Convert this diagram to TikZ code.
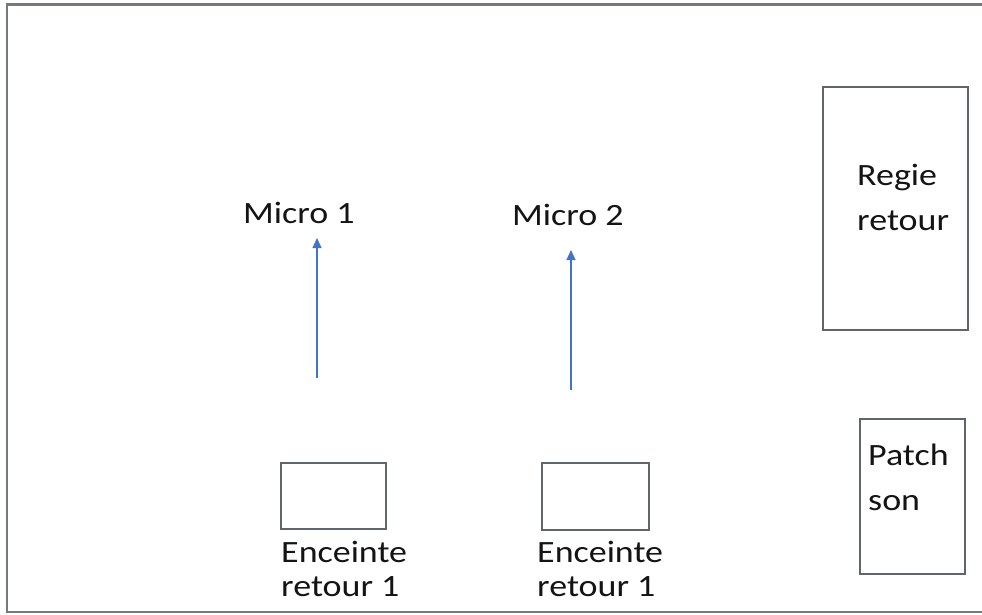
\documentclass[tikz,border=0pt]{standalone}
\usepackage{fontspec}
\setmainfont{Carlito}[FakeStretch=1.16]
\usetikzlibrary{arrows.meta}
\definecolor{framegray}{RGB}{115,120,130}
\definecolor{boxgray}{RGB}{95,100,110}
\definecolor{arrowblue}{RGB}{68,114,196}
\definecolor{txt}{RGB}{20,20,20}
\tikzset{
  box/.style={draw=boxgray, line width=1.6pt, inner sep=0pt},
  lbl/.style={inner sep=0pt, anchor=base west, align=left, text=txt,
              font=\fontsize{31}{34}\selectfont},
  lblwide/.style={lbl, font=\fontsize{31}{45}\selectfont},
  conn/.style={draw=arrowblue, line width=1.3pt,
               -{Triangle[width=9pt,length=10pt]}}
}
\begin{document}
\begin{tikzpicture}[x=1pt,y=-1pt]
\useasboundingbox (0,0) rectangle (982,614);
\clip (0,0) rectangle (982,614);
% outer frame
\draw[framegray, line width=2.2pt] (995,4.5) -- (7,4.5) -- (7,612) -- (995,612);
% boxes
\node[box, minimum width=145pt, minimum height=243pt] (regie) at (895.5,208.5) {};
\node[box, minimum width=105pt, minimum height=155pt] (patch) at (912.5,496.5) {};
\node[box, minimum width=105pt, minimum height=66pt] (enc1) at (333.5,496) {};
\node[box, minimum width=107pt, minimum height=67pt] (enc2) at (595.5,496.5) {};
% labels (base anchor = baseline of the last line)
\node[lblwide] (regielbl) at (857,230) {Regie\\retour};
\node[lblwide] (patchlbl) at (868,510) {Patch\\son};
\node[lbl] (enc1lbl) at (281,596) {Enceinte\\retour 1};
\node[lbl] (enc2lbl) at (537,596) {Enceinte\\retour 1};
\node[lbl] (mic1) at (243,223) {Micro 1};
\node[lbl] (mic2) at (512,225) {Micro 2};
% arrows
\coordinate (a1s) at (317,378);
\coordinate (a1e) at (317,238);
\coordinate (a2s) at (571,390);
\coordinate (a2e) at (571,250);
\draw[conn] (a1s) -- (a1e);
\draw[conn] (a2s) -- (a2e);
\end{tikzpicture}
\end{document}
